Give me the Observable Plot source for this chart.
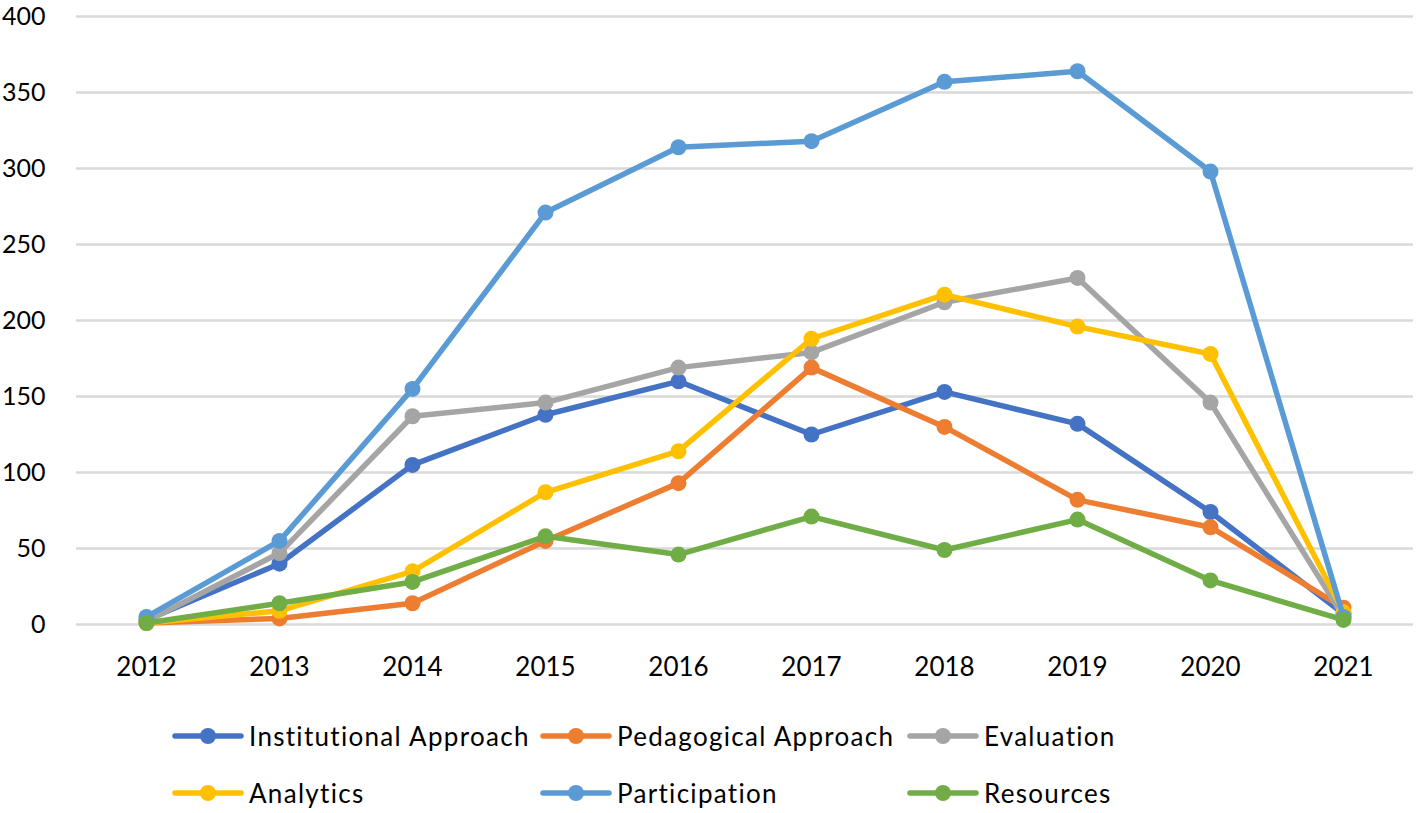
<!DOCTYPE html>
<html>
<head>
<meta charset="utf-8">
<script src="https://cdn.jsdelivr.net/npm/d3@7"></script>
<script src="https://cdn.jsdelivr.net/npm/@observablehq/plot@0.6"></script>
<style>
  html, body { margin: 0; padding: 0; background: #fff; }
  body { width: 1417px; height: 813px; overflow: hidden; font-family: Lato, "Open Sans", sans-serif; }
  #legend { position: relative; height: 113px; }
  .item { position: absolute; display: flex; align-items: center; font-size: 26px; letter-spacing: 1.3px; color: #000; white-space: nowrap; }
  .item svg { margin-right: 5px; }
</style>
</head>
<body>
<div id="chart"></div>
<div id="legend"></div>
<script>
const years = ["2012","2013","2014","2015","2016","2017","2018","2019","2020","2021"];
const yTicks = [0, 50, 100, 150, 200, 250, 300, 350, 400];

const seriesNames = ["Institutional Approach","Pedagogical Approach","Evaluation","Analytics","Participation","Resources"];
const seriesColors = ["#4472C4","#ED7D31","#A5A5A5","#FFC000","#5B9BD5","#70AD47"];

const institutional = [3, 40, 105, 138, 160, 125, 153, 132, 74, 7];
const pedagogical   = [1, 4, 14, 55, 93, 169, 130, 82, 64, 11];
const evaluation    = [2, 47, 137, 146, 169, 179, 212, 228, 146, 5];
const analytics     = [1, 9, 35, 87, 114, 188, 217, 196, 178, 8];
const participation = [5, 55, 155, 271, 314, 318, 357, 364, 298, 5];
const resources     = [1, 14, 28, 58, 46, 71, 49, 69, 29, 3];

const seriesValues = [institutional, pedagogical, evaluation, analytics, participation, resources];

const tables = seriesValues.map((vals, i) =>
  years.map((yr, j) => ({year: yr, value: vals[j], series: seriesNames[i]}))
);

const marks = [
  Plot.ruleY(yTicks, {stroke: "#D9D9D9", strokeWidth: 2.5})
];
tables.forEach((t, i) => {
  marks.push(Plot.line(t, {x: "year", y: "value", stroke: seriesColors[i], strokeWidth: 5.5, strokeLinejoin: "round", strokeLinecap: "round"}));
  marks.push(Plot.dot(t, {x: "year", y: "value", fill: seriesColors[i], r: 8}));
});
marks.push(Plot.axisX({tickSize: 0, tickPadding: 33, fontSize: 26, fill: "#000"}));
marks.push(Plot.axisY({ticks: yTicks, tickSize: 0, tickPadding: 31, fontSize: 25, fill: "#000", tickFormat: d => String(d)}));

const chart = Plot.plot({
  width: 1417,
  height: 700,
  marginLeft: 76,
  marginRight: 4,
  marginTop: 16,
  marginBottom: 76,
  style: {fontFamily: "Lato, 'Open Sans', sans-serif", background: "#fff", overflow: "visible"},
  x: {type: "point", domain: years, padding: 0.5, label: null},
  y: {domain: [0, 400], label: null},
  marks
});
document.getElementById("chart").appendChild(chart);

// Legend below the chart
const legend = document.getElementById("legend");
const colLeft = [172, 540, 907];
const rowCenter = [36, 93];
seriesNames.forEach((name, i) => {
  const row = Math.floor(i / 3), col = i % 3;
  const div = document.createElement("div");
  div.className = "item";
  div.style.left = colLeft[col] + "px";
  div.style.top = (rowCenter[row] - 18) + "px";
  div.style.height = "36px";
  const c = seriesColors[i];
  div.innerHTML = `<svg width="72" height="20"><line x1="3" y1="10" x2="69" y2="10" stroke="${c}" stroke-width="5.5" stroke-linecap="round"/><circle cx="36" cy="10" r="8" fill="${c}"/></svg><span>${name}</span>`;
  legend.appendChild(div);
});
</script>
</body>
</html>
